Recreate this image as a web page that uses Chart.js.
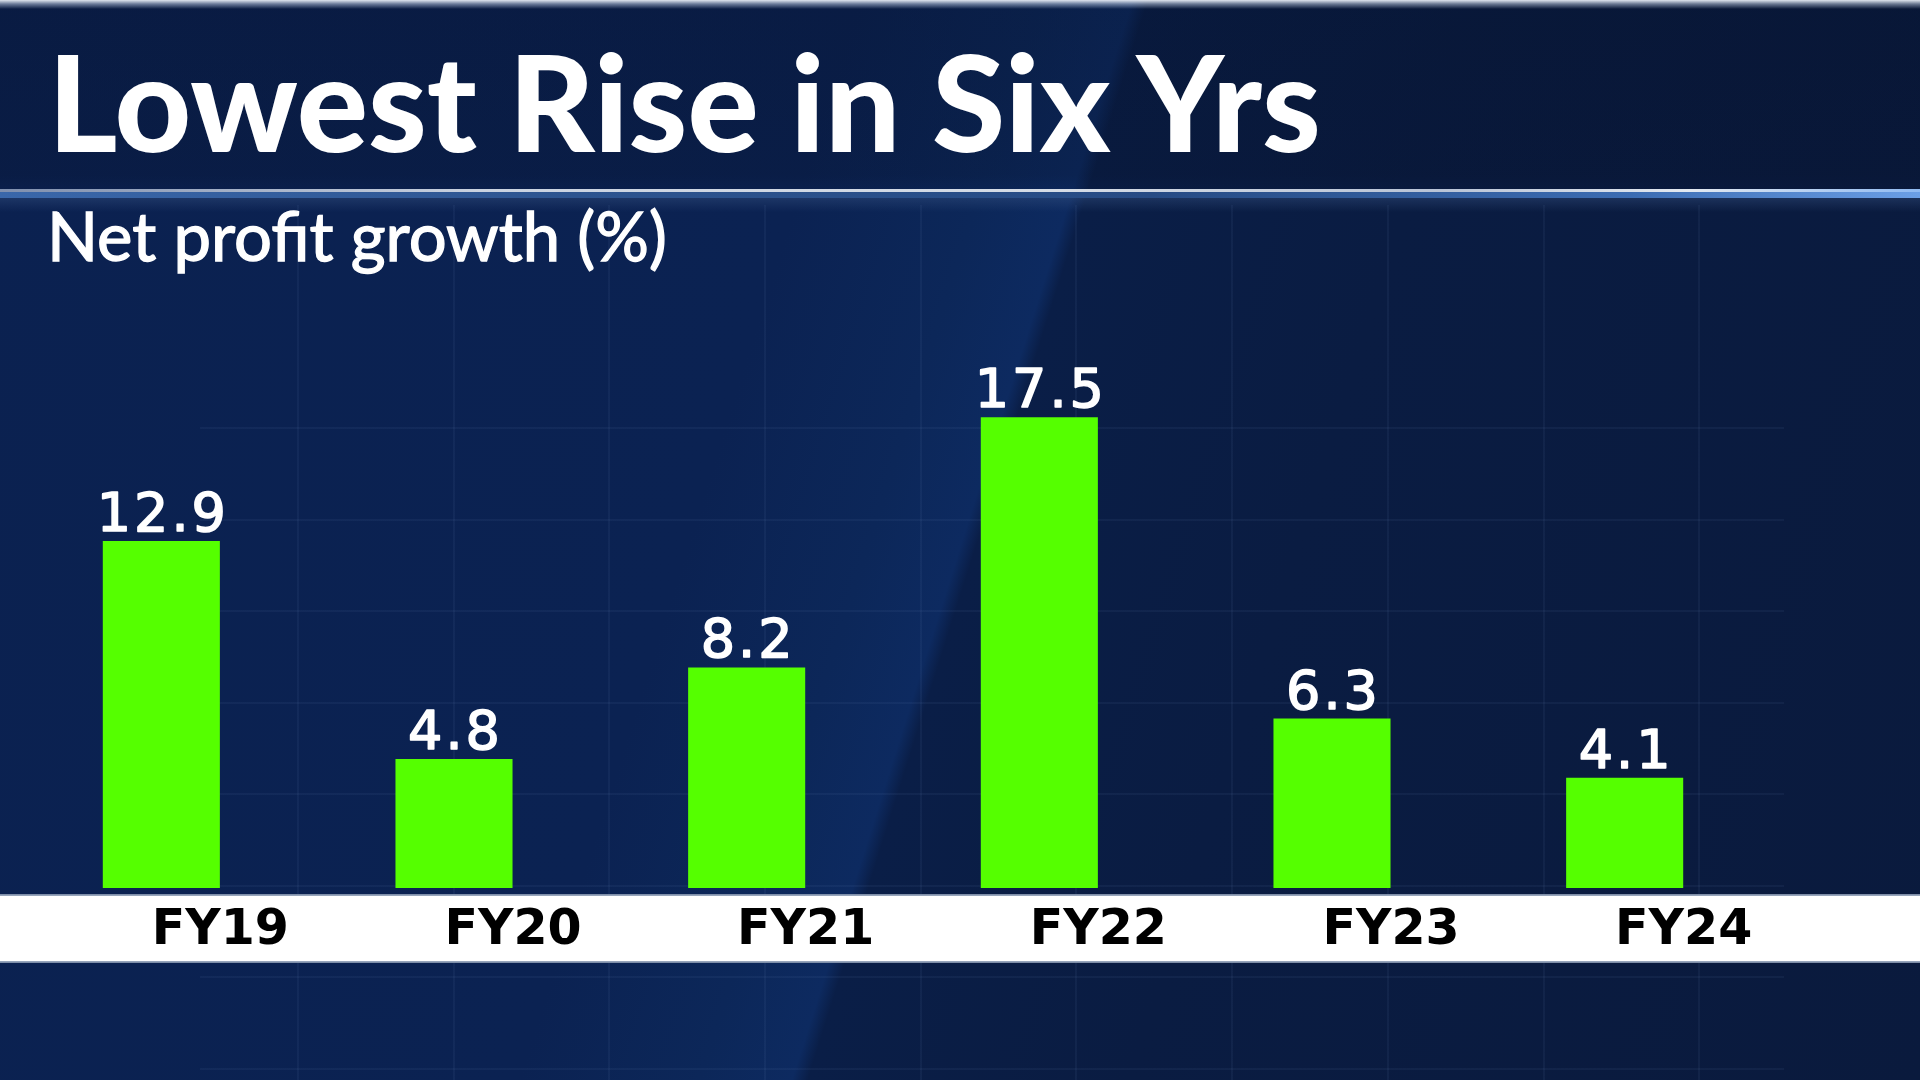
<!DOCTYPE html>
<html>
<head>
<meta charset="utf-8">
<script src="https://cdn.jsdelivr.net/npm/chart.js@4.4.1/dist/chart.umd.min.js"></script>
<style>
html,body{margin:0;padding:0;width:1920px;height:1080px;overflow:hidden;}
body{position:relative;
  background:linear-gradient(107.5deg,#0b2150 0%,#0b2252 38%,#0c2759 46%,#0d2a60 50.1%,#0a1e47 50.8%,#0a1c42 65%,#0a1a3d 100%);}
#vgrid{position:absolute;left:297px;top:205px;width:1404px;height:875px;
  background:repeating-linear-gradient(90deg,rgba(110,140,190,0.08) 0 2px,transparent 2px 155.7px);}
#hgrid{position:absolute;left:200px;top:427px;width:1584px;height:653px;
  background:repeating-linear-gradient(180deg,rgba(110,140,190,0.08) 0 2px,transparent 2px 91.5px);}
#titlebar{position:absolute;left:0;top:0;width:1920px;height:190px;
  background:linear-gradient(180deg,rgba(235,240,248,0.95) 0px,rgba(200,210,225,0.5) 4px,rgba(5,14,36,0.3) 9px,rgba(5,14,36,0.25) 175px,rgba(5,14,36,0.12) 190px);}
#sep1{position:absolute;left:0;top:189px;width:1920px;height:3px;
  background:linear-gradient(90deg,#7f8fae 0%,#c9d2e0 25%,#d5dce6 55%,#b8c3d6 75%,#e3e9f1 88%,#8fbaf2 100%);}
#sep2{position:absolute;left:0;top:192px;width:1920px;height:6px;
  background:linear-gradient(90deg,#3a67aa 0%,#2d548f 30%,#274b84 60%,#3c6cb2 85%,#6b9fe6 100%);}
#shadow{position:absolute;left:0;top:198px;width:1920px;height:14px;
  background:linear-gradient(180deg,rgba(60,90,140,0.35),rgba(60,90,140,0));}
#title{position:absolute;left:48px;top:34px;font-family:Lato,sans-serif;font-weight:900;font-size:133px;line-height:1;color:#fff;white-space:nowrap;}
#subtitle{position:absolute;left:47px;top:202px;font-family:Lato,sans-serif;font-weight:400;font-size:67px;line-height:1;color:#fff;white-space:nowrap;-webkit-text-stroke:1.3px #fff;}
#c{position:absolute;left:0;top:0;}
</style>
</head>
<body>
<div id="vgrid"></div>
<div id="hgrid"></div>
<div id="titlebar"></div>
<div id="sep1"></div>
<div id="sep2"></div>
<div id="shadow"></div>
<div id="title">Lowest Rise in Six Yrs</div>
<div id="subtitle">Net profit growth (%)</div>
<canvas id="c" width="1920" height="1080"></canvas>
<script>
const categories = ['FY19', 'FY20', 'FY21', 'FY22', 'FY23', 'FY24'];
const growth = [12.9, 4.8, 8.2, 17.5, 6.3, 4.1];

const bandPlugin = {
  id: 'band',
  beforeDraw(chart) {
    const ctx = chart.ctx;
    const x = chart.scales.x;
    const top = x.top + 7, h = 67;
    ctx.save();
    ctx.fillStyle = '#ffffff';
    ctx.fillRect(0, top, chart.width, h);
    ctx.fillStyle = 'rgba(140,155,180,0.9)';
    ctx.fillRect(0, top - 1, chart.width, 2);
    ctx.fillRect(0, top + h - 1, chart.width, 2);
    ctx.restore();
  }
};

const valuePlugin = {
  id: 'values',
  afterDatasetsDraw(chart) {
    const ctx = chart.ctx;
    const meta = chart.getDatasetMeta(0);
    ctx.save();
    ctx.font = '54px "DejaVu Sans"';
    ctx.fillStyle = '#ffffff';
    ctx.strokeStyle = '#ffffff';
    ctx.lineWidth = 1.6;
    ctx.lineJoin = 'round';
    ctx.textAlign = 'center';
    ctx.textBaseline = 'alphabetic';
    if ('letterSpacing' in ctx) ctx.letterSpacing = '3px';
    meta.data.forEach((bar, i) => {
      const t = growth[i].toFixed(1);
      ctx.fillText(t, bar.x + 1.5, bar.y - 10);
      ctx.strokeText(t, bar.x + 1.5, bar.y - 10);
    });
    ctx.restore();
  }
};

new Chart(document.getElementById('c'), {
  type: 'bar',
  data: {
    labels: categories,
    datasets: [{
      data: growth,
      backgroundColor: '#55ff00',
      borderWidth: 0,
      barPercentage: 1,
      categoryPercentage: 0.4
    }]
  },
  options: {
    responsive: false,
    animation: false,
    devicePixelRatio: 1,
    layout: { padding: { left: 15, right: 149, top: 350, bottom: 0 } },
    plugins: { legend: { display: false }, tooltip: { enabled: false } },
    scales: {
      x: {
        grid: { display: false, drawTicks: false },
        border: { display: false },
        ticks: {
          color: '#000000',
          font: { family: 'DejaVu Sans', weight: 'bold', size: 49 },
          labelOffset: 59,
          padding: 14,
          maxRotation: 0,
          autoSkip: false
        },
        afterFit(scale) { scale.height = 192; }
      },
      y: { display: false, min: 0, max: 20 }
    }
  },
  plugins: [bandPlugin, valuePlugin]
});
</script>
</body>
</html>
